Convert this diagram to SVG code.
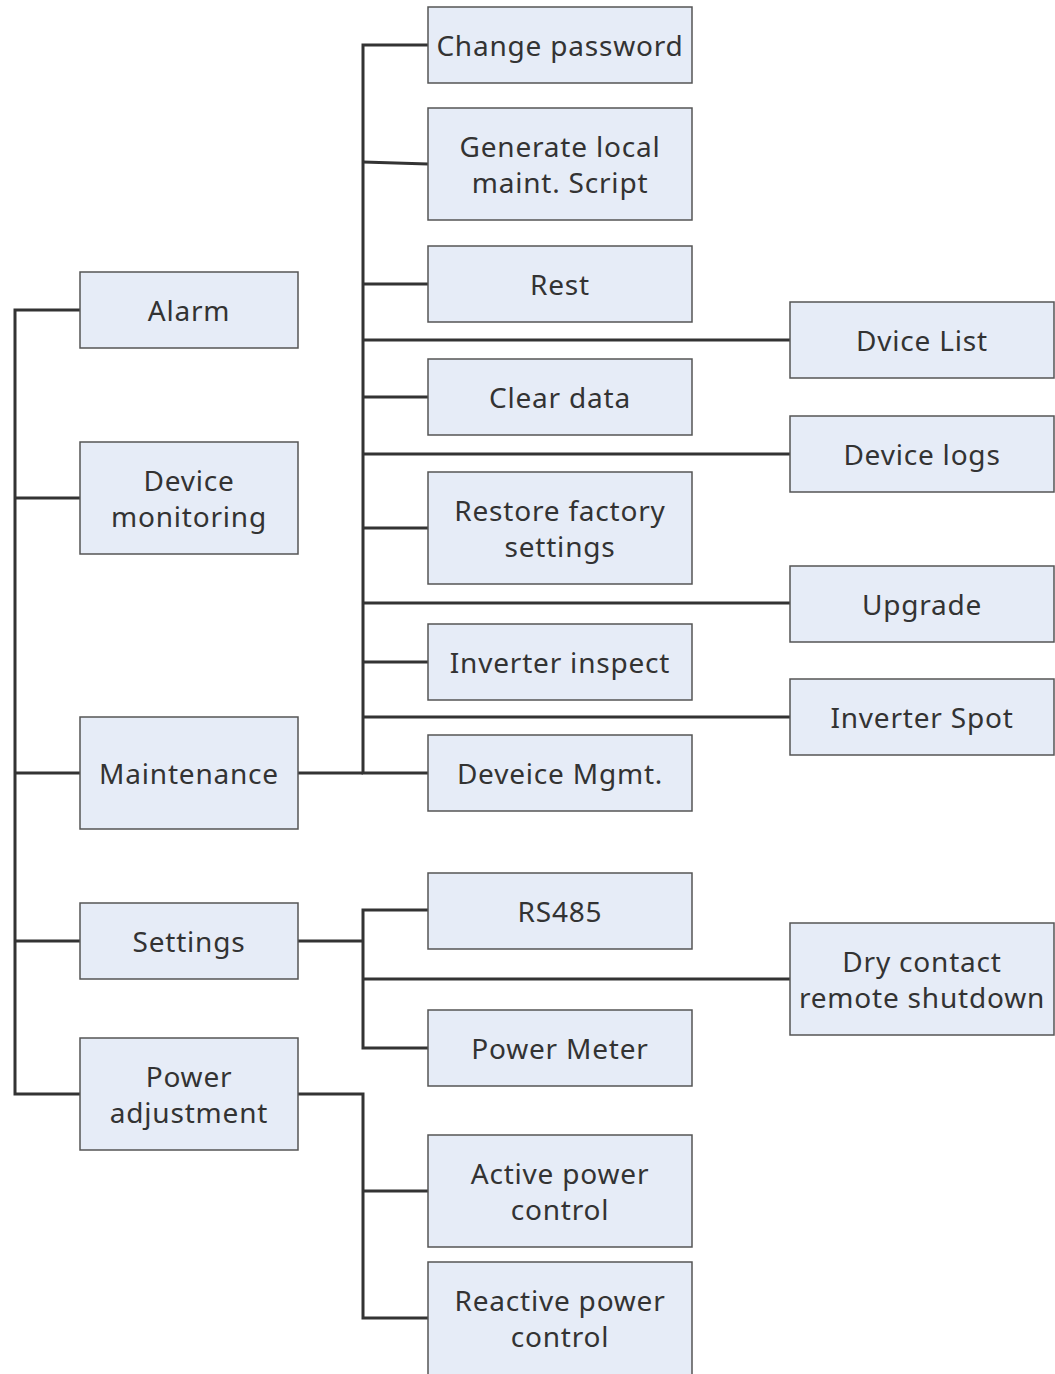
<svg xmlns="http://www.w3.org/2000/svg" width="1055" height="1374" viewBox="0 0 1055 1374">
<style>
.n rect{fill:#e6ecf7;stroke:#555;stroke-width:1.5}
.n text{font-family:"Noto Sans","Open Sans",sans-serif;font-size:28px;letter-spacing:0.8px;fill:#333;text-anchor:middle}
.c path{fill:none;stroke:#333;stroke-width:3}
</style>
<rect width="1055" height="1374" fill="#fff"/>
<g class="c" id="connectors">
<path d="M80,310 H15 V1094 H80"/>
<path d="M80,498 H15"/>
<path d="M80,773 H15"/>
<path d="M80,941 H15"/>
<path d="M298,773 H363"/>
<path d="M428,45 H363 V773 H428"/>
<path d="M428,164 L363,162"/>
<path d="M428,284 H363"/>
<path d="M790,340 H363"/>
<path d="M428,397 H363"/>
<path d="M790,454 H363"/>
<path d="M428,528 H363"/>
<path d="M790,603 H363"/>
<path d="M428,662 H363"/>
<path d="M790,717 H363"/>
<path d="M298,941 H363"/>
<path d="M428,910 H363 V1048 H428"/>
<path d="M790,979 H363"/>
<path d="M298,1094 H363 V1318 H428"/>
<path d="M428,1191 H363"/>
</g>
<g class="n" id="alarm"><rect x="80" y="272" width="218" height="76"/><text x="189" y="321">Alarm</text></g>
<g class="n" id="device-monitoring"><rect x="80" y="442" width="218" height="112"/><text x="189" y="491">Device</text><text x="189" y="527">monitoring</text></g>
<g class="n" id="maintenance"><rect x="80" y="717" width="218" height="112"/><text x="189" y="784">Maintenance</text></g>
<g class="n" id="settings"><rect x="80" y="903" width="218" height="76"/><text x="189" y="952">Settings</text></g>
<g class="n" id="power-adjustment"><rect x="80" y="1038" width="218" height="112"/><text x="189" y="1087">Power</text><text x="189" y="1123">adjustment</text></g>
<g class="n" id="change-password"><rect x="428" y="7" width="264" height="76"/><text x="560" y="56">Change password</text></g>
<g class="n" id="generate-script"><rect x="428" y="108" width="264" height="112"/><text x="560" y="157">Generate local</text><text x="560" y="193">maint. Script</text></g>
<g class="n" id="rest"><rect x="428" y="246" width="264" height="76"/><text x="560" y="295">Rest</text></g>
<g class="n" id="clear-data"><rect x="428" y="359" width="264" height="76"/><text x="560" y="408">Clear data</text></g>
<g class="n" id="restore-factory"><rect x="428" y="472" width="264" height="112"/><text x="560" y="521">Restore factory</text><text x="560" y="557">settings</text></g>
<g class="n" id="inverter-inspect"><rect x="428" y="624" width="264" height="76"/><text x="560" y="673">Inverter inspect</text></g>
<g class="n" id="device-mgmt"><rect x="428" y="735" width="264" height="76"/><text x="560" y="784">Deveice Mgmt.</text></g>
<g class="n" id="rs485"><rect x="428" y="873" width="264" height="76"/><text x="560" y="922">RS485</text></g>
<g class="n" id="power-meter"><rect x="428" y="1010" width="264" height="76"/><text x="560" y="1059">Power Meter</text></g>
<g class="n" id="active-power"><rect x="428" y="1135" width="264" height="112"/><text x="560" y="1184">Active power</text><text x="560" y="1220">control</text></g>
<g class="n" id="reactive-power"><rect x="428" y="1262" width="264" height="114"/><text x="560" y="1311">Reactive power</text><text x="560" y="1347">control</text></g>
<g class="n" id="device-list"><rect x="790" y="302" width="264" height="76"/><text x="922" y="351">Dvice List</text></g>
<g class="n" id="device-logs"><rect x="790" y="416" width="264" height="76"/><text x="922" y="465">Device logs</text></g>
<g class="n" id="upgrade"><rect x="790" y="566" width="264" height="76"/><text x="922" y="615">Upgrade</text></g>
<g class="n" id="inverter-spot"><rect x="790" y="679" width="264" height="76"/><text x="922" y="728">Inverter Spot</text></g>
<g class="n" id="dry-contact"><rect x="790" y="923" width="264" height="112"/><text x="922" y="972">Dry contact</text><text x="922" y="1008">remote shutdown</text></g>
</svg>
